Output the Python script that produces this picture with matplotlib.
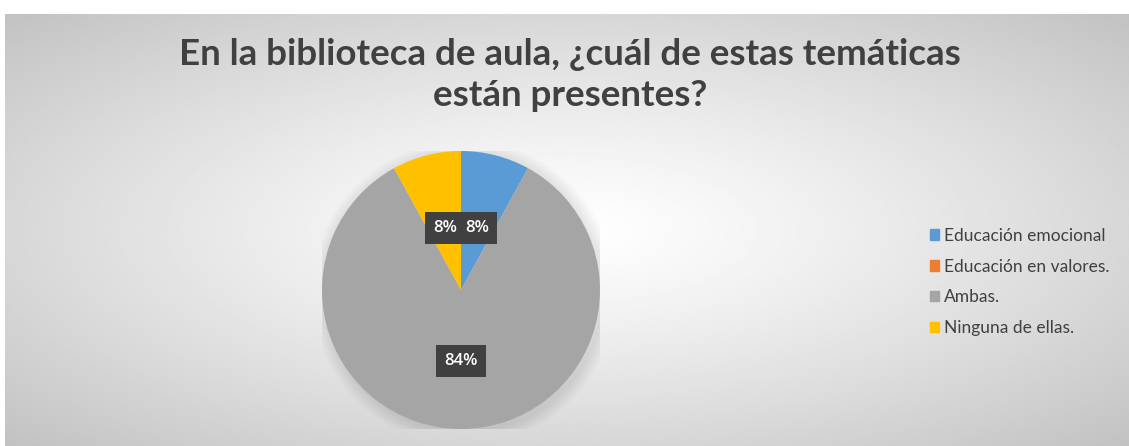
import numpy as np
import matplotlib.pyplot as plt

categories = ['Educación emocional', 'Educación en valores.', 'Ambas.', 'Ninguna de ellas.']
values = [8, 0, 84, 8]
colors = ['#5B9BD5', '#ED7D31', '#A5A5A5', '#FFC000']
title = 'En la biblioteca de aula, ¿cuál de estas temáticas\nestán presentes?'

fig = plt.figure(figsize=(11.29, 4.46), dpi=100)
fig.patch.set_facecolor('white')

# radial gradient background of the chart area
bg = fig.add_axes([5 / 1129, 0, 1 - 5 / 1129, (446 - 14) / 446])
yy, xx = np.mgrid[-1:1:300j, -1:1:600j]
r = np.sqrt(xx ** 2 + yy ** 2) / np.sqrt(2)
grad = 1.0 - 0.24 * np.clip(r, 0, 1) ** 1.2
bg.imshow(grad, cmap='gray', vmin=0, vmax=1, aspect='auto', extent=[0, 1, 0, 1])
bg.set_axis_off()

fig.text(570 / 1129, 1 - 75 / 446, title, ha='center', va='center',
         fontsize=26.5, fontweight='bold', color='#404040', family='Lato',
         linespacing=1.3)

ax = fig.add_axes([(461 - 139) / 1129, (446 - 290 - 139) / 446, 278 / 1129, 278 / 446])
# soft shadow behind the pie
for k in range(8):
    ax.add_patch(plt.Circle((0.02, -0.02), 1.0 + 0.012 * (k + 1), color='black',
                            alpha=0.012, lw=0, zorder=0))
wedges, _ = ax.pie(values, colors=colors, startangle=90, counterclock=False,
                   radius=1, wedgeprops=dict(linewidth=0, zorder=1))
ax.set_xlim(-1, 1)
ax.set_ylim(-1, 1)
ax.set_aspect('equal')
ax.set_axis_off()

for w, v in zip(wedges, values):
    if v == 0:
        continue
    ang = np.deg2rad((w.theta1 + w.theta2) / 2)
    d = 0.46 if v < 50 else 0.51
    ax.text(d * np.cos(ang), d * np.sin(ang), f'{v}%', ha='center', va='center',
            color='white', fontsize=12, fontweight='semibold', family='Open Sans', zorder=5,
            bbox=dict(boxstyle='square,pad=0.5', fc='#404040', ec='none'))

handles = [plt.Rectangle((0, 0), 1, 1, color=c) for c in colors]
leg = fig.legend(handles, categories, loc='center left', bbox_to_anchor=(914 / 1129, 1 - 282 / 446),
                 frameon=False, handlelength=0.55, handleheight=0.55,
                 handletextpad=0.3, labelspacing=0.85, labelcolor='#404040',
                 prop={'family': 'Lato', 'size': 12.5})

fig.savefig('out.png', dpi=100)
